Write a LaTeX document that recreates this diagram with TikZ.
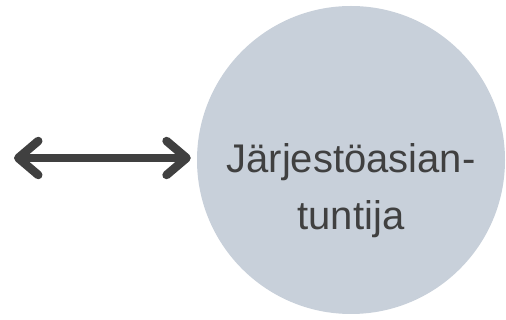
\documentclass[tikz,border=0pt]{standalone}
\usepackage{fontspec}
\setmainfont{Liberation Sans}
\usetikzlibrary{arrows.meta}
\definecolor{ringgray}{RGB}{200,208,218}
\definecolor{inkgray}{RGB}{64,64,64}
\begin{document}
\begin{tikzpicture}[x=1pt,y=-1pt,
	expert/.style={circle,fill=ringgray,draw=none,minimum size=308pt,inner sep=0pt},
	expertname/.style={text=inkgray,align=center,font=\fontsize{40}{57}\selectfont},
	link/.style={inkgray,line width=8.5pt,line cap=round,
		{Straight Barb[length=20pt,width=34pt,round]}-{Straight Barb[length=20pt,width=34pt,round]}}]
	%%%%%%%%%%%%%%%%%%%
	%      frame      %
	%%%%%%%%%%%%%%%%%%%
		\useasboundingbox (0,0) rectangle (506,320);
	%%%%%%%%%%%%%%%%%%%
	%     expert      %
	%%%%%%%%%%%%%%%%%%%
		\node[expert] (expert) at (351,160) {};
		\node[expertname] (name) at ([yshift=-31pt]expert.center) {Järjestöasian-\\tuntija};
	%%%%%%%%%%%%%%%%%%%
	%      arrow      %
	%%%%%%%%%%%%%%%%%%%
		\coordinate (outer) at (14,158);
		\draw[link,shorten >=6pt] (outer) -- (expert.west |- outer);
\end{tikzpicture}
\end{document}
